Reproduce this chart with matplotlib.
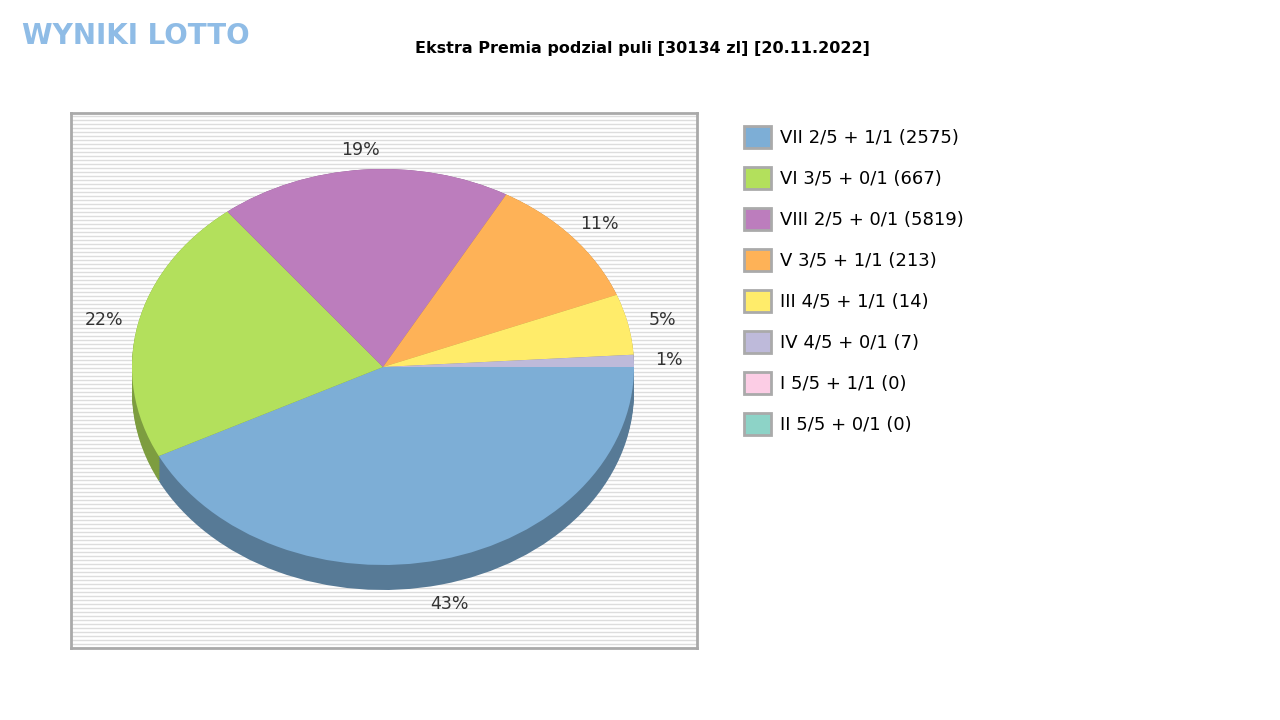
import matplotlib.pyplot as plt
import matplotlib.patches as mpatches
import numpy as np

plt.rcParams['font.family'] = 'DejaVu Sans'

# data
labels = ['VII 2/5 + 1/1 (2575)', 'VI 3/5 + 0/1 (667)', 'VIII 2/5 + 0/1 (5819)',
          'V 3/5 + 1/1 (213)', 'III 4/5 + 1/1 (14)', 'IV 4/5 + 0/1 (7)',
          'I 5/5 + 1/1 (0)', 'II 5/5 + 0/1 (0)']
shares = [43, 22, 19, 11, 5, 1, 0, 0]
pct_text = ['43%', '22%', '19%', '11%', '5%', '1%', '', '']
colors = ['#7daed6', '#b3e05c', '#bc7dbd', '#feb257', '#ffec6a', '#bebada', '#fccde5', '#8dd3c7']
title = 'Ekstra Premia podzial puli [30134 zl] [20.11.2022]'

fig = plt.figure(figsize=(12.8, 7.2), dpi=100)
pos = [71/1280, 72/720, 626/1280, 535/720]
ax = fig.add_axes(pos)

rx, ry = 251, 198
xl = (-312/rx, 314/rx)
yl = (-281/ry, 254/ry)

# striped background
for yy in np.arange(yl[0], yl[1], 4/ry):
    ax.axhline(yy, color='#dddddd', lw=1, zorder=0)

vals = [v for v in shares if v > 0]
cols = [c for v, c in zip(shares, colors) if v > 0]
dark = [tuple(np.array(plt.matplotlib.colors.to_rgb(c)) * 0.7) for c in cols]
depth = 25/ry
for k in np.linspace(depth, 0, 14):
    ax.pie(vals, colors=dark, startangle=0, counterclock=False, center=(0, -k),
           radius=1, frame=True, wedgeprops=dict(linewidth=0))
ax.pie(vals, colors=cols, startangle=0, counterclock=False, center=(0, 0),
       radius=1, frame=True, wedgeprops=dict(linewidth=0))
ax.set_aspect('auto')
ax.set_position(pos)
ax.set_xlim(*xl)
ax.set_ylim(*yl)
ax.set_xticks([]); ax.set_yticks([])
for s in ax.spines.values():
    s.set_color('#aaaaaa'); s.set_linewidth(2)

ang = 0
for v, t in zip(shares, pct_text):
    if v == 0:
        continue
    mid = np.deg2rad(-(ang + v/sum(shares)*360/2))
    ang += v/sum(shares)*360
    x, y = 1.14*np.cos(mid), 1.1*np.sin(mid)
    if y < 0:
        y -= depth
    ax.text(x, y, t, ha='center', va='center', fontsize=12.5, color='#333333')

handles = [mpatches.Patch(facecolor=c, edgecolor='#aaaaaa', linewidth=2) for c in colors]
fig.legend(handles, labels, loc='upper left', bbox_to_anchor=(728/1280, 1-110/720),
           frameon=False, fontsize=13, handlelength=1.5, handleheight=1.5,
           labelspacing=1.05, handletextpad=0.5)

fig.text(642/1280, 1-48/720, title, ha='center', va='center', fontsize=11.5, fontweight='bold')
fig.text(22/1280, 1-36/720, 'WYNIKI LOTTO', ha='left', va='center', fontsize=20,
         fontweight='bold', color='#8fbce6')

fig.savefig('out.png', dpi=100)
